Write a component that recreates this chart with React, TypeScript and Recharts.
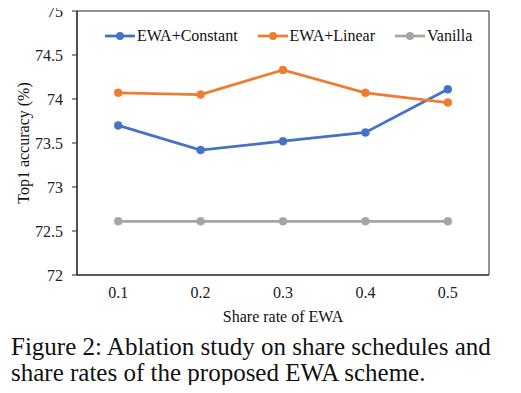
import React from "react";
import { LineChart, Line, XAxis, YAxis, Legend, ReferenceArea } from "recharts";

const shareRates = ["0.1", "0.2", "0.3", "0.4", "0.5"];
const ewaConstant = [73.7, 73.42, 73.52, 73.62, 74.11];
const ewaLinear = [74.07, 74.05, 74.33, 74.07, 73.96];
const vanilla = [72.61, 72.61, 72.61, 72.61, 72.61];
const yTicks = [72, 72.5, 73, 73.5, 74, 74.5, 75];
const categoryCenters = [0.5, 1.5, 2.5, 3.5, 4.5];
const boundaryTicks = [0, 1, 2, 3, 4, 5];

const series = [
  { key: "constant", name: "EWA+Constant", color: "#4472C4", values: ewaConstant },
  { key: "linear", name: "EWA+Linear", color: "#ED7D31", values: ewaLinear },
  { key: "vanilla", name: "Vanilla", color: "#A5A5A5", values: vanilla },
];

const data = shareRates.map((x, i) => {
  const row: Record<string, string | number> = { x, pos: categoryCenters[i] };
  series.forEach((s) => (row[s.key] = s.values[i]));
  return row;
});

const FONT = "Liberation Serif";
const AXIS = "#262626";

const XTick = (props: any) => {
  const { x, y, payload } = props;
  const label = shareRates[categoryCenters.indexOf(payload.value)] ?? "";
  return (
    <text x={x} y={y} dy="0.71em" textAnchor="middle" fontFamily={FONT} fontSize={16} fill="#222">
      {label}
    </text>
  );
};

const YTick = (props: any) => {
  const { x, y, payload } = props;
  return (
    <text x={x} y={y} dy="0.355em" textAnchor="end" fontFamily={FONT} fontSize={16} fill="#222">
      {payload.value}
    </text>
  );
};

const LegendContent = (props: any) => {
  const payload = props.payload || [];
  return (
    <div style={{ display: "flex", alignItems: "center", fontFamily: FONT, fontSize: 16, color: "#111" }}>
      {payload.map((p: any, i: number) => (
        <div key={i} style={{ display: "flex", alignItems: "center", marginRight: 20 }}>
          <svg width={30} height={10} style={{ marginRight: 2 }}>
            <line x1={0} y1={5} x2={30} y2={5} stroke={p.color} strokeWidth={2.75} />
            <circle cx={15} cy={5} r={4} fill={p.color} />
          </svg>
          <span>{p.value}</span>
        </div>
      ))}
    </div>
  );
};

export default function App() {
  return (
    <div
      style={{
        position: "relative",
        width: 521,
        height: 393,
        margin: -8,
        background: "#fff",
        overflow: "hidden",
        fontFamily: FONT,
      }}
    >
      <LineChart width={521} height={330} data={data} margin={{ top: 11, right: 32, left: 0, bottom: 0 }}>
        <ReferenceArea y1={72} y2={75} fill="none" stroke={AXIS} strokeWidth={1} ifOverflow="visible" />
        <XAxis
          xAxisId="b"
          dataKey="pos"
          type="number"
          domain={[0, 5]}
          ticks={boundaryTicks}
          height={0}
          tick={false}
          tickSize={5}
          tickLine={{ stroke: AXIS }}
          axisLine={false}
        />
        <XAxis
          dataKey="pos"
          type="number"
          domain={[0, 5]}
          ticks={categoryCenters}
          height={55}
          tickLine={false}
          axisLine={{ stroke: AXIS, strokeWidth: 1.2 }}
          tickSize={5}
          tickMargin={7}
          tick={<XTick />}
          label={{ value: "Share rate of EWA", position: "center", dy: 14, fontFamily: FONT, fontSize: 16, fill: "#111" }}
        />
        <YAxis
          domain={[72, 75]}
          ticks={yTicks}
          width={77}
          tickSize={5}
          tickMargin={9}
          tickLine={{ stroke: AXIS }}
          axisLine={{ stroke: AXIS, strokeWidth: 1.2 }}
          tick={<YTick />}
          label={{ value: "Top1 accuracy (%)", angle: -90, position: "center", dx: -15, fontFamily: FONT, fontSize: 16, fill: "#111", textAnchor: "middle" }}
        />
        <Legend verticalAlign="middle" align="center" wrapperStyle={{ top: 27, left: 105, width: 420, height: 20 }} content={<LegendContent />} />
        {series.map((s) => (
          <Line
            key={s.key}
            dataKey={s.key}
            name={s.name}
            stroke={s.color}
            strokeWidth={2.75}
            dot={{ r: 4, fill: s.color, stroke: s.color, strokeWidth: 0.5 }}
            activeDot={false}
            isAnimationActive={false}
          />
        ))}
      </LineChart>
      <div
        style={{
          position: "absolute",
          left: 11,
          top: 334,
          width: 510,
          fontFamily: FONT,
          fontSize: 25,
          lineHeight: "26px",
          color: "#111",
        }}
      >
        Figure 2: Ablation study on share schedules and
        <br />
        share rates of the proposed EWA scheme.
      </div>
    </div>
  );
}
